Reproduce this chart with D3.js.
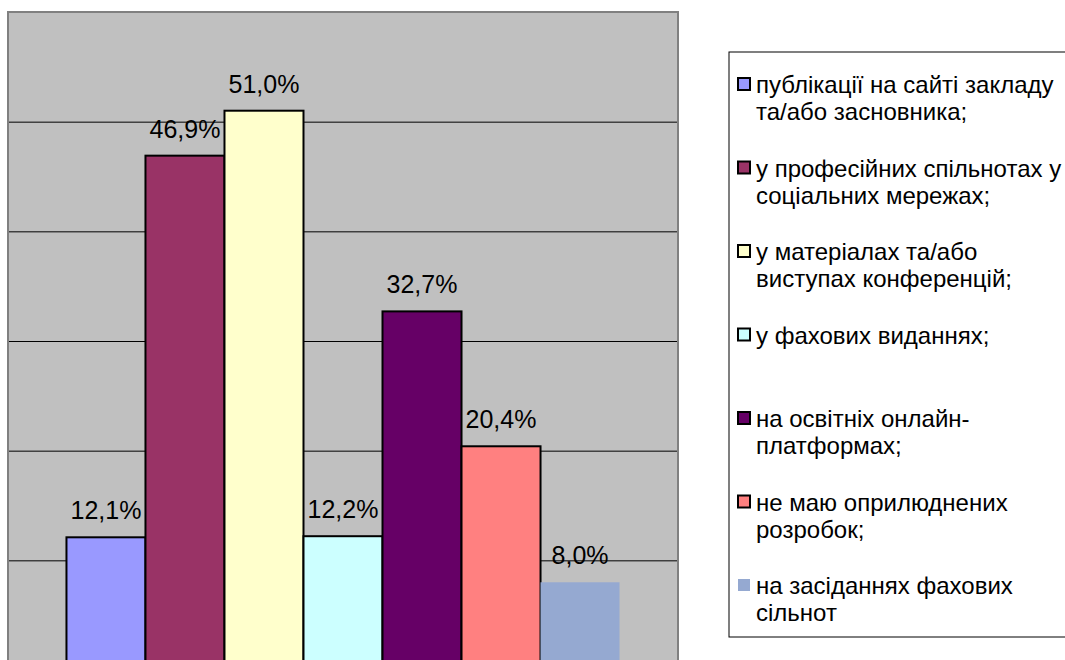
<!DOCTYPE html>
<html>
<head>
<meta charset="utf-8">
<script src="https://cdn.jsdelivr.net/npm/d3@7"></script>
<style>
  body { margin: 0; background: #fff; }
  svg { display: block; font-family: "Liberation Sans", Arial, sans-serif; }
</style>
</head>
<body>
<div id="chart"></div>
<script>
// categories (legend labels, \n = line break like in the original legend)
var categories = [
    "публікації на сайті закладу\nта/або засновника;",
    "у професійних спільнотах у\nсоціальних мережах;",
    "у матеріалах та/або\nвиступах конференцій;",
    "у фахових виданнях;",
    "на освітніх онлайн-\nплатформах;",
    "не маю оприлюднених\nрозробок;",
    "на засіданнях фахових\nсільнот"
];
var values = [12.1, 46.9, 51.0, 12.2, 32.7, 20.4, 8.0];
var colors = ["#9999FF", "#993366", "#FFFFCC", "#CCFFFF", "#660066", "#FF8080", "#95A9D1"];
var gridTicks = [10, 20, 30, 40, 50];

var W = 1065, H = 660;
var plot = { left: 8, top: 12, right: 678, bottom: 670 };

var svg = d3.select("#chart").append("svg")
    .attr("width", W)
    .attr("height", H);

var x = d3.scaleBand()
    .domain(d3.range(values.length))
    .range([plot.left, plot.right])
    .paddingInner(0)
    .paddingOuter(0.74);

var y = d3.scaleLinear()
    .domain([0, 60])
    .range([plot.bottom, plot.top]);

// plot area
svg.append("rect")
    .attr("x", plot.left)
    .attr("y", plot.top)
    .attr("width", plot.right - plot.left)
    .attr("height", plot.bottom - plot.top)
    .attr("fill", "#C0C0C0");

// gridlines
var grid = svg.append("g")
    .attr("class", "grid")
    .attr("transform", "translate(" + plot.left + ",0)")
    .call(d3.axisLeft(y).tickValues(gridTicks).tickSize(-(plot.right - plot.left)).tickFormat(""));
grid.select(".domain").remove();
grid.selectAll("line").attr("stroke", "#000").attr("stroke-width", 1);

// bars
svg.selectAll(".bar")
    .data(values)
    .enter().append("rect")
    .attr("class", "bar")
    .attr("x", function(d, i) { return x(i); })
    .attr("y", function(d) { return y(d); })
    .attr("width", x.bandwidth())
    .attr("height", function(d) { return y(0) - y(d); })
    .attr("fill", function(d, i) { return colors[i]; })
    .attr("stroke", function(d, i) { return i < 6 ? "#000" : "none"; })
    .attr("stroke-width", 2);

// plot border
svg.append("rect")
    .attr("x", plot.left)
    .attr("y", plot.top)
    .attr("width", plot.right - plot.left)
    .attr("height", plot.bottom - plot.top)
    .attr("fill", "none")
    .attr("stroke", "#808080")
    .attr("stroke-width", 2);

// value labels
svg.selectAll(".val")
    .data(values)
    .enter().append("text")
    .attr("class", "val")
    .attr("x", function(d, i) { return x(i) + x.bandwidth() / 2; })
    .attr("y", function(d) { return y(d) - 18; })
    .attr("text-anchor", "middle")
    .attr("font-size", "25px")
    .attr("fill", "#000")
    .text(function(d) { return d3.format(".1f")(d).replace(".", ",") + "%"; });

// legend
var legend = svg.append("g").attr("class", "legend");
legend.append("rect")
    .attr("x", 729)
    .attr("y", 52)
    .attr("width", 400)
    .attr("height", 585)
    .attr("fill", "#fff")
    .attr("stroke", "#000")
    .attr("stroke-width", 1);

var item = legend.selectAll(".item")
    .data(categories)
    .enter().append("g")
    .attr("class", "item")
    .attr("transform", function(d, i) { return "translate(0," + (85 + i * 83.5) + ")"; });

item.append("rect")
    .attr("x", 738)
    .attr("y", -7)
    .attr("width", 12)
    .attr("height", 12)
    .attr("fill", function(d, i) { return colors[i]; })
    .attr("stroke", function(d, i) { return i < 6 ? "#000" : "none"; })
    .attr("stroke-width", 2);

item.append("text")
    .attr("font-size", "24px")
    .attr("fill", "#000")
    .each(function(d) {
        var t = d3.select(this);
        d.split("\n").forEach(function(line, k) {
            t.append("tspan")
                .attr("x", 756)
                .attr("y", k * 27)
                .attr("dy", "0.35em")
                .text(line);
        });
    });
</script>
</body>
</html>
